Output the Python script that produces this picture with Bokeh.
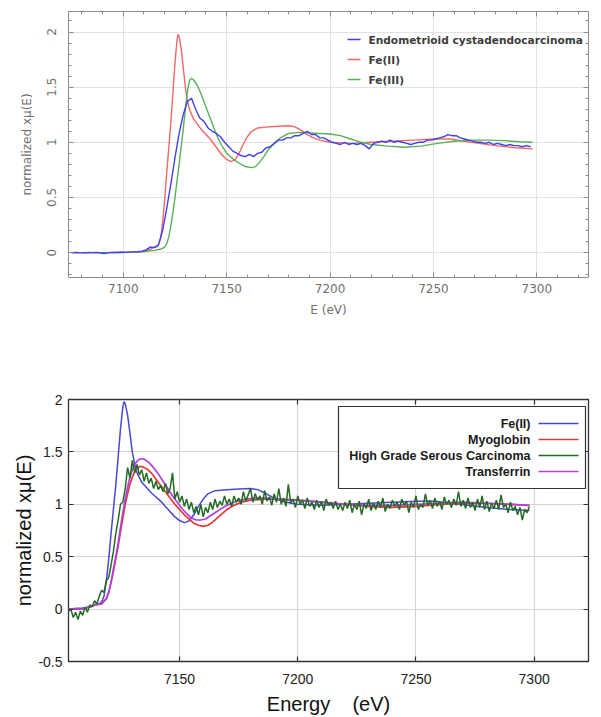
import math
from bokeh.plotting import figure
from bokeh.models import (Range1d, FixedTicker, LinearAxis, Label, BoxAnnotation,
                          CustomLabelingPolicy)
from bokeh.layouts import column
from bokeh.embed import file_html
from bokeh.resources import INLINE

# ---------------- data: top panel ----------------
fe2_energy = [7075, 7090, 7105, 7110, 7113, 7115, 7116, 7117, 7118, 7119, 7120, 7121, 7122,
              7123, 7124, 7125, 7126, 7126.5, 7127, 7128, 7129, 7130, 7131, 7132, 7134, 7136,
              7138, 7140, 7142, 7144, 7146, 7148, 7150, 7152, 7154, 7156, 7158, 7160, 7162,
              7165, 7170, 7175, 7180, 7183, 7186, 7189, 7192, 7195, 7200, 7210, 7220, 7230,
              7240, 7250, 7258, 7265, 7272, 7280, 7290, 7298]
fe2_mu = [0.0, 0.0, 0.005, 0.01, 0.03, 0.05, 0.05, 0.07, 0.12, 0.27, 0.47, 0.72, 0.95,
          1.18, 1.45, 1.72, 1.93, 1.98, 1.96, 1.85, 1.68, 1.5, 1.38, 1.3, 1.21, 1.16,
          1.11, 1.07, 1.03, 0.98, 0.93, 0.88, 0.845, 0.825, 0.84, 0.9, 0.98, 1.05, 1.1,
          1.13, 1.14, 1.145, 1.15, 1.14, 1.11, 1.07, 1.04, 1.02, 1.0, 0.99, 1.0, 1.01,
          1.02, 1.03, 1.03, 1.01, 0.99, 0.97, 0.95, 0.94]

fe3_energy = [7075, 7100, 7110, 7115, 7118, 7120, 7121, 7122, 7123, 7124, 7125, 7126, 7127,
              7128, 7129, 7130, 7131, 7132, 7133, 7134, 7135, 7136, 7138, 7140, 7142, 7144,
              7146, 7148, 7150, 7153, 7156, 7159, 7162, 7164, 7166, 7168, 7170, 7173, 7176,
              7180, 7185, 7190, 7195, 7200, 7205, 7210, 7215, 7220, 7228, 7236, 7244, 7252,
              7260, 7268, 7276, 7284, 7292, 7298]
fe3_mu = [0.0, 0.0, 0.01, 0.02, 0.03, 0.05, 0.08, 0.14, 0.24, 0.36, 0.5, 0.65, 0.8,
          0.96, 1.12, 1.3, 1.46, 1.56, 1.58, 1.565, 1.54, 1.51, 1.42, 1.32, 1.22, 1.12,
          1.03, 0.96, 0.9, 0.85, 0.81, 0.78, 0.77, 0.78, 0.82, 0.87, 0.93, 0.99, 1.04,
          1.08, 1.09, 1.085, 1.08, 1.075, 1.06, 1.03, 1.0, 0.98, 0.965, 0.955, 0.965, 0.99,
          1.01, 1.02, 1.02, 1.015, 1.005, 1.0]

endo_start, endo_step = 7075, 2
endo_mu = [0.0, 0.002, 0.0, -0.003, 0.001, 0.0, 0.002, -0.004, -0.008, 0.0,
           0.002, 0.001, 0.003, 0.002, 0.004, 0.006, 0.008, 0.012, 0.025, 0.05,
           0.045, 0.07, 0.2, 0.4, 0.62, 0.86, 1.08, 1.25, 1.37, 1.40,
           1.3, 1.22, 1.19, 1.13, 1.1, 1.08, 1.05, 1.0, 0.96, 0.92,
           0.9, 0.88, 0.87, 0.89, 0.87, 0.9, 0.91, 0.95, 0.96, 0.99,
           1.02, 1.02, 1.04, 1.04, 1.06, 1.06, 1.08, 1.1, 1.07, 1.07,
           1.04, 1.04, 1.02, 1.0, 0.99, 0.98, 1.0, 0.98, 0.99, 0.98,
           0.99, 0.97, 0.94, 0.99, 1.0, 1.01, 1.0, 1.02, 1.0, 1.01,
           1.0, 0.99, 0.98, 0.99, 1.0, 1.0, 1.02, 1.02, 1.03, 1.04,
           1.05, 1.07, 1.06, 1.06, 1.04, 1.03, 1.02, 1.01, 1.0, 1.0,
           0.99, 1.0, 0.98, 0.99, 0.98, 0.97, 0.98, 0.97, 0.97, 0.96,
           0.97, 0.96]
endo_energy = [endo_start + endo_step * i for i in range(len(endo_mu))]

# ---------------- data: bottom panel ----------------
myo_energy = [7103, 7108, 7112, 7114, 7117, 7119, 7120, 7121, 7122, 7123, 7124, 7125, 7126,
              7127, 7128, 7129, 7130, 7131, 7132, 7133, 7134, 7136, 7138, 7140, 7142, 7144,
              7146, 7148, 7150, 7152, 7154, 7156, 7158, 7160, 7162, 7164, 7166, 7168, 7170,
              7173, 7176, 7180, 7185, 7190, 7195, 7200, 7210, 7220, 7230, 7240, 7250, 7260,
              7270, 7280, 7290, 7298]
myo_mu = [0.0, 0.0, 0.02, 0.04, 0.05, 0.1, 0.16, 0.25, 0.36, 0.48, 0.6, 0.74, 0.87,
          1.0, 1.1, 1.19, 1.26, 1.31, 1.34, 1.36, 1.36, 1.34, 1.3, 1.24, 1.18, 1.12,
          1.06, 1.0, 0.95, 0.9, 0.86, 0.82, 0.8, 0.79, 0.8, 0.83, 0.87, 0.91, 0.95,
          0.99, 1.02, 1.04, 1.05, 1.05, 1.045, 1.04, 1.02, 1.0, 0.98, 0.97, 0.98, 1.0,
          1.01, 1.01, 1.0, 0.99]

trf_energy = [7103, 7108, 7112, 7114, 7117, 7119, 7120, 7121, 7122, 7123, 7124, 7125, 7126,
              7127, 7128, 7129, 7130, 7131, 7132, 7133, 7134, 7135, 7137, 7139, 7141, 7143,
              7145, 7147, 7149, 7151, 7153, 7155, 7157, 7159, 7161, 7163, 7165, 7167, 7170,
              7174, 7178, 7182, 7186, 7190, 7195, 7200, 7210, 7220, 7230, 7240, 7250, 7260,
              7270, 7280, 7290, 7298]
trf_mu = [0.0, 0.0, 0.02, 0.04, 0.05, 0.1, 0.16, 0.26, 0.38, 0.5, 0.63, 0.78, 0.92,
          1.05, 1.16, 1.26, 1.33, 1.38, 1.41, 1.43, 1.435, 1.43, 1.4, 1.35, 1.29, 1.22,
          1.15, 1.08, 1.02, 0.96, 0.91, 0.87, 0.85, 0.85, 0.86, 0.89, 0.92, 0.95, 0.99,
          1.03, 1.05, 1.06, 1.06, 1.05, 1.045, 1.04, 1.02, 1.0, 0.99, 0.99, 1.0, 1.01,
          1.02, 1.01, 1.0, 0.99]

hgsc_start = 7103
hgsc_mu = [-0.02, 0.0, -0.08, -0.03, -0.1, -0.02, -0.06, 0.02, -0.03, 0.04,
           0.02, 0.08, 0.05, 0.12, 0.18, 0.16, 0.27, 0.3, 0.42, 0.55,
           0.72, 0.85, 1.0, 1.02, 1.15, 1.35, 1.25, 1.42, 1.3, 1.38,
           1.28, 1.33, 1.22, 1.3, 1.2, 1.25, 1.15, 1.22, 1.14, 1.18,
           1.12, 1.2, 1.1, 1.15, 1.3, 1.05, 1.12, 1.02, 1.08, 0.98,
           1.05, 0.95, 1.02, 0.92, 0.98, 0.9, 1.0, 0.88, 0.97, 0.92,
           1.02, 0.95, 1.05, 0.97, 1.03, 0.99, 1.08, 1.0, 1.05, 0.98,
           1.08, 1.02, 1.06, 1.0, 1.12, 1.03, 1.09, 1.15, 1.02, 1.1,
           1.04, 1.08, 1.0, 1.13, 1.03, 1.07, 0.99, 1.1, 1.02, 1.15,
           1.0, 1.06, 0.98, 1.19, 1.01, 1.05, 0.97, 1.08, 1.0, 1.04,
           0.96, 1.06, 0.98, 1.02, 0.95, 1.04, 0.97, 1.03, 0.94, 1.05,
           0.99, 1.02, 0.96, 1.03, 0.95, 1.0, 0.94, 1.02, 0.96, 1.04,
           0.92, 1.0, 0.95, 1.03, 0.9, 1.0, 0.96, 1.05, 0.94, 1.01,
           0.95, 1.03, 0.97, 1.06, 0.93, 1.0, 0.96, 1.04, 0.98, 1.02,
           0.95, 1.05, 0.99, 1.03, 0.92, 1.02, 0.97, 1.08, 0.95, 1.0,
           0.97, 1.1, 0.99, 1.04, 0.96, 1.06, 0.98, 1.03, 0.95, 1.07,
           1.0, 1.04, 0.97, 1.05, 0.99, 1.12, 0.98, 1.04, 0.96, 1.06,
           0.97, 1.02, 0.94, 1.05, 0.97, 1.08, 0.95, 1.03, 0.93, 1.01,
           0.96, 1.04, 0.95, 1.09, 0.97, 1.0, 0.92, 1.02, 0.94, 0.98,
           0.9, 0.97, 0.85, 0.95, 0.92, 0.98]
hgsc_energy = [hgsc_start + i for i in range(len(hgsc_mu))]

# ---------------- labels / ticks ----------------
top_legend_labels = ["Endometrioid cystadendocarcinoma", "Fe(II)", "Fe(III)"]
bottom_legend_labels = ["Fe(II)", "Myoglobin", "High Grade Serous Carcinoma", "Transferrin"]
top_x_ticks = [7100, 7150, 7200, 7250, 7300]
top_y_ticks = [0, 0.5, 1, 1.5, 2]
top_y_tick_labels = ["0", "0.5", "1", "1.5", "2"]
bot_x_ticks = [7150, 7200, 7250, 7300]
bot_y_ticks = [-0.5, 0, 0.5, 1, 1.5, 2]
bot_y_tick_labels = ["-0.5", "0", "0.5", "1", "1.5", "2"]

# ---------------- styles ----------------
C_ENDO, C_FE2_TOP, C_FE3 = "#4040ee", "#f26868", "#58b058"
C_FE2, C_MYO, C_HGSC, C_TRF = "#4a48d2", "#e03838", "#236b23", "#b040e0"

HIDE_CODE = """
try {
  const r = indices.clone();
  for (const i of Array.from(indices.ones())) { r.unset(i); }
  return r;
} catch (e) {
  return indices;
}
"""

def hidden_axis(tk):
    return LinearAxis(ticker=tk, major_label_text_font_size="1px", major_label_standoff=0,
                      axis_label_standoff=0,
                      major_label_policy=CustomLabelingPolicy(code=HIDE_CODE))

# ================= TOP FIGURE =================
p1 = figure(width=601, height=330, x_range=Range1d(7073.5, 7325), y_range=Range1d(-0.226, 2.186),
            output_backend="svg", toolbar_location=None,
            min_border_left=64, min_border_right=13, min_border_top=11, min_border_bottom=53)
p1.outline_line_color = "#8c8c8c"
p1.outline_line_width = 1

top_x_minor = [7080 + 10 * i for i in range(25)]
top_y_minor = [round(-0.2 + 0.1 * i, 2) for i in range(24)]
tx = FixedTicker(ticks=top_x_ticks, minor_ticks=top_x_minor)
ty = FixedTicker(ticks=top_y_ticks, minor_ticks=top_y_minor)
top_y_over = {float(v): s for v, s in zip(top_y_ticks, top_y_tick_labels)}

def style_common(ax, col):
    ax.axis_line_color = None
    ax.major_tick_in = 5
    ax.major_tick_out = 0
    ax.minor_tick_in = 3
    ax.minor_tick_out = 0
    ax.major_tick_line_color = col
    ax.minor_tick_line_color = col

for ax in p1.xaxis:
    ax.ticker = tx
    style_common(ax, "#8c8c8c")
    ax.major_label_text_font = "DejaVu Sans"
    ax.major_label_text_font_size = "12px"
    ax.major_label_text_color = "#707070"
    ax.major_label_standoff = 6
    ax.axis_label = "E (eV)"
    ax.axis_label_text_font = "DejaVu Sans"
    ax.axis_label_text_font_size = "12px"
    ax.axis_label_text_font_style = "normal"
    ax.axis_label_text_color = "#707070"
    ax.axis_label_standoff = 7

for ax in p1.yaxis:
    ax.ticker = ty
    style_common(ax, "#8c8c8c")
    ax.major_label_overrides = top_y_over
    ax.major_label_orientation = "parallel"
    ax.major_label_text_font = "DejaVu Sans"
    ax.major_label_text_font_size = "12px"
    ax.major_label_text_color = "#707070"
    ax.major_label_standoff = 12
    ax.axis_label = "normalized xμ(E)"
    ax.axis_label_text_font = "DejaVu Sans"
    ax.axis_label_text_font_size = "12px"
    ax.axis_label_text_font_style = "normal"
    ax.axis_label_text_color = "#707070"
    ax.axis_label_standoff = 11

for loc, tk in (("right", ty), ("above", tx)):
    ax = hidden_axis(tk)
    style_common(ax, "#8c8c8c")
    p1.add_layout(ax, loc)

p1.xgrid.grid_line_color = "#e2e2e2"
p1.ygrid.grid_line_color = "#e2e2e2"

p1.line(fe2_energy, fe2_mu, line_color=C_FE2_TOP, line_width=1.4)
p1.line(fe3_energy, fe3_mu, line_color=C_FE3, line_width=1.4)
p1.line(endo_energy, endo_mu, line_color=C_ENDO, line_width=1.4)

for i, (lab, col) in enumerate(zip(top_legend_labels, [C_ENDO, C_FE2_TOP, C_FE3])):
    yy = 39 + 20 * i
    p1.add_layout(BoxAnnotation(left=347, right=360, top=yy - 0.7, bottom=yy + 0.7,
                                left_units="canvas", right_units="canvas",
                                top_units="canvas", bottom_units="canvas",
                                fill_color=col, fill_alpha=1, line_color=None))
    p1.add_layout(Label(x=368, y=yy, x_units="canvas", y_units="canvas", text=lab,
                        text_baseline="middle", text_align="left",
                        text_font="DejaVu Sans", text_font_size="10.6px",
                        text_font_style="bold", text_color="#3c3c3c"))

# ================= BOTTOM FIGURE =================
p2 = figure(width=601, height=387, x_range=Range1d(7103, 7323), y_range=Range1d(-0.5, 2.0),
            output_backend="svg", toolbar_location=None,
            min_border_left=68, min_border_right=8, min_border_top=69, min_border_bottom=52)
p2.outline_line_color = "#333333"
p2.outline_line_width = 1.3

bx = FixedTicker(ticks=bot_x_ticks, minor_ticks=[])
by = FixedTicker(ticks=bot_y_ticks, minor_ticks=[])
bot_y_over = {float(v): s for v, s in zip(bot_y_ticks, bot_y_tick_labels)}

def style_bot(ax):
    ax.axis_line_color = None
    ax.major_tick_in = 5
    ax.major_tick_out = 0
    ax.minor_tick_line_color = None
    ax.major_tick_line_color = "#333333"
    ax.major_tick_line_width = 1.2

for ax in p2.xaxis:
    ax.ticker = bx
    style_bot(ax)
    ax.major_label_text_font = "Liberation Sans"
    ax.major_label_text_font_size = "14px"
    ax.major_label_text_color = "#222222"
    ax.major_label_standoff = 12
    ax.axis_label = "Energy\u00a0\u00a0\u00a0\u00a0(eV)"
    ax.axis_label_text_font = "Liberation Sans"
    ax.axis_label_text_font_size = "20px"
    ax.axis_label_text_font_style = "normal"
    ax.axis_label_text_color = "#111111"
    ax.axis_label_standoff = 6

for ax in p2.yaxis:
    ax.ticker = by
    style_bot(ax)
    ax.major_label_overrides = bot_y_over
    ax.major_label_text_font = "Liberation Sans"
    ax.major_label_text_font_size = "14px"
    ax.major_label_text_color = "#222222"
    ax.major_label_standoff = 6
    ax.axis_label = "normalized xμ(E)"
    ax.axis_label_text_font = "Liberation Sans"
    ax.axis_label_text_font_size = "20px"
    ax.axis_label_text_font_style = "normal"
    ax.axis_label_text_color = "#111111"
    ax.axis_label_standoff = 0

for loc, tk in (("right", by), ("above", bx)):
    ax = hidden_axis(tk)
    style_bot(ax)
    p2.add_layout(ax, loc)

p2.xgrid.grid_line_color = "#d4d4d4"
p2.ygrid.grid_line_color = "#d4d4d4"
p2.xgrid.grid_line_width = 1.2
p2.ygrid.grid_line_width = 1.2

p2.line(fe2_energy, fe2_mu, line_color=C_FE2, line_width=1.5)
p2.line(myo_energy, myo_mu, line_color=C_MYO, line_width=1.7)
p2.line(trf_energy, trf_mu, line_color=C_TRF, line_width=1.7)
p2.line(hgsc_energy, hgsc_mu, line_color=C_HGSC, line_width=1.5)

p2.add_layout(BoxAnnotation(left=338, right=585, top=76, bottom=158,
                            left_units="canvas", right_units="canvas",
                            top_units="canvas", bottom_units="canvas",
                            fill_color="white", fill_alpha=1,
                            line_color="#333333", line_width=1.2, line_alpha=1))
for i, (lab, col) in enumerate(zip(bottom_legend_labels, [C_FE2, C_MYO, C_HGSC, C_TRF])):
    yy = 93 + 16 * i
    p2.add_layout(BoxAnnotation(left=538, right=578, top=yy - 0.8, bottom=yy + 0.8,
                                left_units="canvas", right_units="canvas",
                                top_units="canvas", bottom_units="canvas",
                                fill_color=col, fill_alpha=1, line_color=None))
    p2.add_layout(Label(x=530, y=yy, x_units="canvas", y_units="canvas", text=lab,
                        text_baseline="middle", text_align="right",
                        text_font="Liberation Sans", text_font_size="12.5px",
                        text_font_style="bold", text_color="#1a1a1a"))

layout = column(p1, p2)
open("out.html", "w").write(file_html(layout, INLINE))
